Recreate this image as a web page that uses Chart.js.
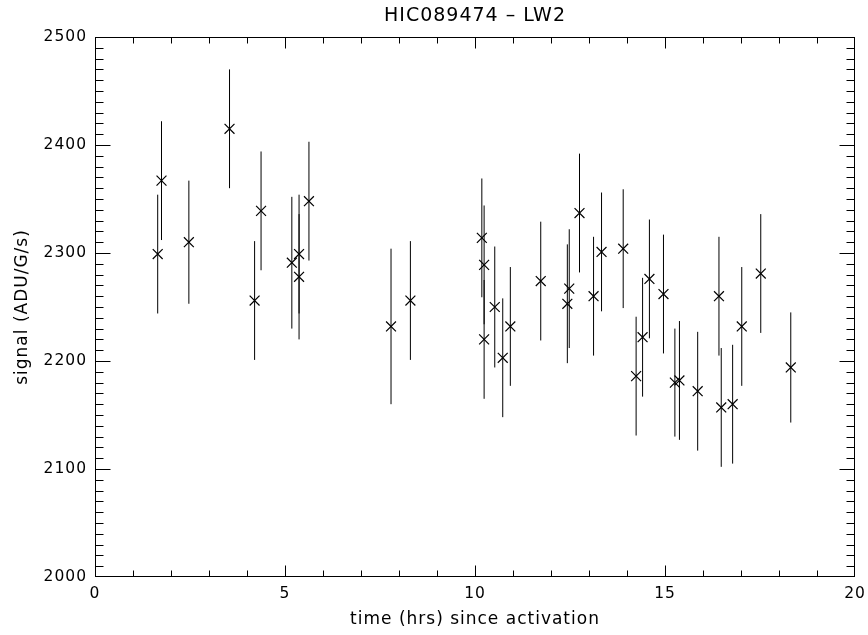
<!DOCTYPE html>
<html lang="en">
<head>
<meta charset="UTF-8">
<title>HIC089474 - LW2</title>
<script src="https://cdn.jsdelivr.net/npm/chart.js@4"></script>
<style>
  html, body { margin: 0; padding: 0; background: #fff; }
</style>
</head>
<body>
<canvas id="myChart" width="868" height="635"></canvas>
<script>
// labels
const chartTitle = 'HIC089474 – LW2';
const xTitle = 'time (hrs) since activation';
const yTitle = 'signal (ADU/G/s)';

// data
const times   = [1.65, 1.75, 2.47, 3.54, 4.20, 4.37, 5.18, 5.37, 5.37, 5.63,
                 7.79, 8.30, 10.18, 10.24, 10.24, 10.52, 10.73, 10.93, 11.73, 12.43,
                 12.48, 12.75, 13.12, 13.33, 13.90, 14.24, 14.41, 14.59, 14.96, 15.26,
                 15.38, 15.86, 16.42, 16.48, 16.78, 17.02, 17.52, 18.31];
const signals = [2299, 2367, 2310, 2415, 2256, 2339, 2291, 2299, 2278, 2348,
                 2232, 2256, 2314, 2289, 2220, 2250, 2203, 2232, 2274, 2253,
                 2267, 2337, 2260, 2301, 2304, 2186, 2222, 2276, 2262, 2180,
                 2182, 2172, 2260, 2157, 2160, 2232, 2281, 2194];
const errors  = [55, 55, 57, 55, 55, 55, 61, 55, 58, 55,
                 72, 55, 55, 55, 55, 56, 55, 55, 55, 55,
                 55, 55, 55, 55, 55, 55, 55, 55, 55, 50,
                 55, 55, 55, 55, 55, 55, 55, 51];

// axis ticks
const xTicks = [0, 5, 10, 15, 20];
const yTicks = [2000, 2100, 2200, 2300, 2400, 2500];
const xMinorStep = 1;
const yMinorStep = 10;

const points = times.map((t, i) => ({ x: t, y: signals[i] }));

// IDL style: box with inward ticks on all four sides, error bars, title
const idlPlugin = {
  id: 'idl',
  beforeDraw(chart) {
    chart.ctx.letterSpacing = '1px';
  },
  beforeDatasetsDraw(chart) {
    const ctx = chart.ctx;
    const xs = chart.scales.x, ys = chart.scales.y;
    ctx.save();
    ctx.strokeStyle = '#000';
    ctx.lineWidth = 1;
    times.forEach((t, i) => {
      const px = xs.getPixelForValue(t);
      ctx.beginPath();
      ctx.moveTo(px, ys.getPixelForValue(signals[i] + errors[i]));
      ctx.lineTo(px, ys.getPixelForValue(signals[i] - errors[i]));
      ctx.stroke();
    });
    ctx.restore();
  },
  afterDraw(chart) {
    const ctx = chart.ctx;
    const a = chart.chartArea;
    const xs = chart.scales.x, ys = chart.scales.y;
    const l = Math.round(a.left) + 0.5, r = Math.round(a.right) - 0.5;
    const t = Math.round(a.top) + 0.5, b = Math.round(a.bottom) - 0.5;
    const clamp = (v, lo, hi) => Math.min(hi, Math.max(lo, v));
    ctx.save();
    ctx.strokeStyle = '#000';
    ctx.lineWidth = 1;
    ctx.strokeRect(l, t, r - l, b - t);
    ctx.beginPath();
    // y ticks, left and right
    for (let v = ys.min; v <= ys.max + 0.001; v += yMinorStep) {
      const py = clamp(Math.round(ys.getPixelForValue(v)) + 0.5, t, b);
      const len = yTicks.includes(Math.round(v)) ? 15 : 8;
      ctx.moveTo(l, py); ctx.lineTo(l + len, py);
      ctx.moveTo(r, py); ctx.lineTo(r - len, py);
    }
    // x ticks, bottom and top
    for (let v = xs.min; v <= xs.max + 0.001; v += xMinorStep) {
      const px = clamp(Math.round(xs.getPixelForValue(v)) + 0.5, l, r);
      const len = xTicks.includes(Math.round(v)) ? 11 : 6;
      ctx.moveTo(px, b); ctx.lineTo(px, b - len);
      ctx.moveTo(px, t); ctx.lineTo(px, t + len);
    }
    ctx.stroke();
    // title
    ctx.fillStyle = '#000';
    ctx.font = '19px "DejaVu Sans"';
    ctx.textAlign = 'center';
    ctx.textBaseline = 'middle';
    ctx.letterSpacing = '1px';
    ctx.fillText(chartTitle, (a.left + a.right) / 2, 16);
    ctx.restore();
  }
};

const ctx = document.getElementById('myChart').getContext('2d');
new Chart(ctx, {
  type: 'scatter',
  data: {
    datasets: [{
      data: points,
      pointStyle: 'crossRot',
      pointRadius: 7,
      pointHoverRadius: 7,
      borderColor: '#000',
      backgroundColor: '#000',
      borderWidth: 1.2,
      showLine: false
    }]
  },
  options: {
    responsive: false,
    animation: false,
    events: [],
    layout: { padding: { top: 37, right: 13, left: 0, bottom: 0 } },
    plugins: {
      legend: { display: false },
      title: { display: false },
      tooltip: { enabled: false }
    },
    scales: {
      x: {
        type: 'linear',
        min: 0, max: 20,
        afterBuildTicks: s => { s.ticks = xTicks.map(v => ({ value: v })); },
        afterFit: s => { s.height = 58; s.paddingLeft = 0; s.paddingRight = 0; },
        grid: { display: false, drawTicks: false },
        border: { display: false },
        ticks: {
          color: '#000', padding: 8, maxRotation: 0, autoSkip: false,
          callback: v => String(v),
          font: { family: 'DejaVu Sans', size: 15.5 }
        },
        title: {
          display: true, text: xTitle, color: '#000',
          padding: { top: 0, bottom: 5 },
          font: { family: 'DejaVu Sans', size: 17 }
        }
      },
      y: {
        type: 'linear',
        min: 2000, max: 2500,
        afterBuildTicks: s => { s.ticks = yTicks.map(v => ({ value: v })); },
        afterFit: s => { s.width = 95; s.paddingTop = 0; s.paddingBottom = 0; },
        grid: { display: false, drawTicks: false },
        border: { display: false },
        ticks: {
          color: '#000', padding: 8, autoSkip: false,
          callback: v => String(v),
          font: { family: 'DejaVu Sans', size: 15.5 }
        },
        title: {
          display: true, text: yTitle, color: '#000',
          padding: { top: 12, bottom: 0 },
          font: { family: 'DejaVu Sans', size: 17 }
        }
      }
    }
  },
  plugins: [idlPlugin]
});
</script>
</body>
</html>
